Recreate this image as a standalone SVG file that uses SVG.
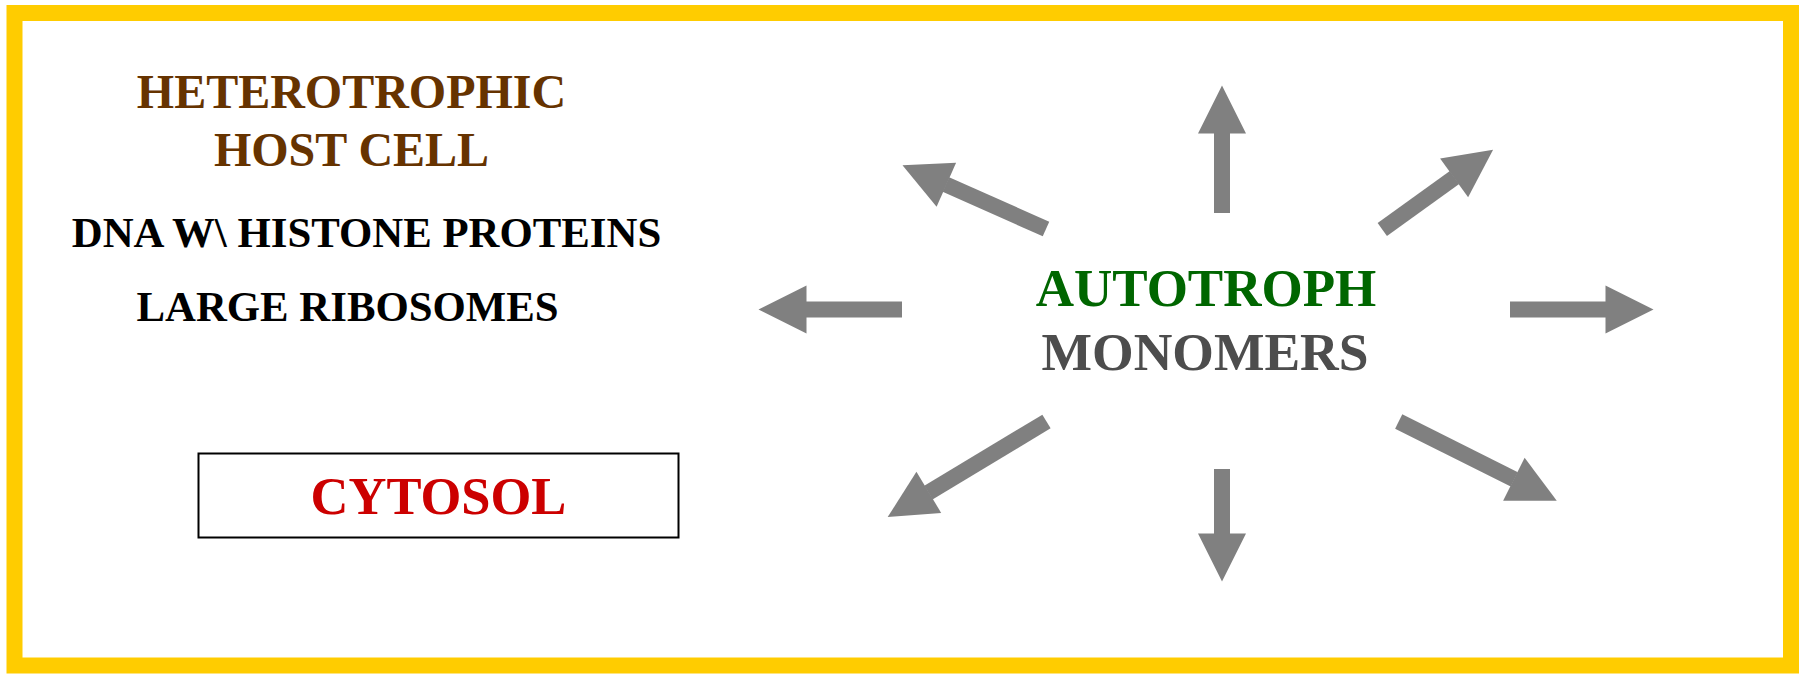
<svg xmlns="http://www.w3.org/2000/svg" width="1803" height="674" viewBox="0 0 1803 674">
<style>
text{font-family:"Liberation Serif","Times New Roman",serif;font-weight:bold;text-anchor:middle}
.host{fill:#663300;font-size:48px}
.blk{fill:#000;font-size:42.8px}
.cyt{fill:#cc0000;font-size:52.5px}
.auto{fill:#006600;font-size:53px}
.mono{fill:#4d4d4d;font-size:53.5px}
.arr{stroke:#808080;stroke-width:16;fill:none;marker-end:url(#head)}
</style>
<defs>
<marker id="head" markerUnits="strokeWidth" markerWidth="3" markerHeight="3" viewBox="0 0 3 3" refX="0.03" refY="1.5" orient="auto" overflow="visible">
<path d="M0,0 L3,1.5 L0,3 Z" fill="#808080"/>
</marker>
</defs>
<rect x="0" y="0" width="1803" height="674" fill="#fff"/>
<rect id="frame" x="14.5" y="13" width="1776.5" height="652.5" fill="none" stroke="#ffcc00" stroke-width="16"/>
<g id="host-cell">
<text class="host" x="351.5" y="108">HETEROTROPHIC</text>
<text class="host" x="351.5" y="166">HOST CELL</text>
</g>
<g id="dna">
<text class="blk" x="366.5" y="247">DNA W\ HISTONE PROTEINS</text>
</g>
<g id="ribosomes">
<text class="blk" x="347.5" y="321">LARGE RIBOSOMES</text>
</g>
<g id="cytosol">
<rect x="198.5" y="453.5" width="480" height="84" fill="none" stroke="#000" stroke-width="2"/>
<text class="cyt" x="438.5" y="514">CYTOSOL</text>
</g>
<g id="autotroph">
<text class="auto" x="1206" y="306">AUTOTROPH</text>
<text class="mono" x="1205" y="370">MONOMERS</text>
</g>
<g id="connectors">
<line class="arr" x1="1222" y1="213" x2="1222" y2="133"/>
<line class="arr" x1="1222" y1="469" x2="1222" y2="534"/>
<line class="arr" x1="902" y1="309.5" x2="806" y2="309.5"/>
<line class="arr" x1="1510" y1="309.5" x2="1606" y2="309.5"/>
<line class="arr" x1="1046" y1="229" x2="945.9" y2="184.5"/>
<line class="arr" x1="1382.3" y1="229.5" x2="1454.5" y2="177.6"/>
<line class="arr" x1="1046.5" y1="421.5" x2="928.4" y2="492.6"/>
<line class="arr" x1="1398.7" y1="421.5" x2="1514.3" y2="479.4"/>
</g>
</svg>
